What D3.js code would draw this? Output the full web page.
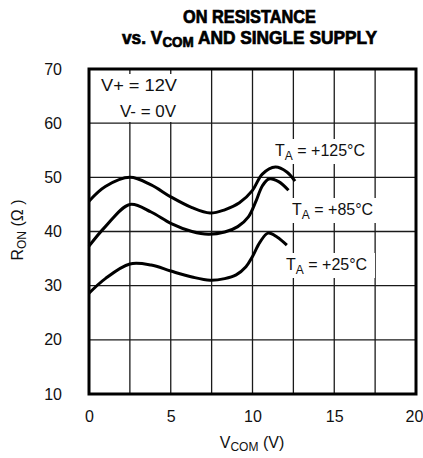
<!DOCTYPE html>
<html>
<head>
<meta charset="utf-8">
<script src="https://cdn.jsdelivr.net/npm/d3@7"></script>
<style>
  html, body { margin: 0; padding: 0; background: #fff; }
  svg { display: block; }
  text { font-family: "Liberation Sans", Arial, sans-serif; fill: #111; }
  .title { font-family: "Liberation Sans", Arial, sans-serif; font-weight: bold; fill: #000; stroke: #000; stroke-width: 0.7; }
</style>
</head>
<body>
<svg id="chart" width="423" height="458"></svg>
<script>
// ---- data ----
const xTicks = [0, 5, 10, 15, 20];
const yTicks = [10, 20, 30, 40, 50, 60, 70];
const xGrid = [2.5, 5, 7.5, 10, 12.5, 15, 17.5];
const yGrid = [20, 30, 40, 50, 60];

const vcom125 = [0, 1, 2.5, 3.8, 5, 6.3, 7.4, 8.3, 9.2, 10, 10.6, 11.4, 12.1, 12.6];
const ron125  = [45.6, 48.3, 50.0, 48.6, 46.4, 44.4, 43.4, 44.0, 45.3, 47.6, 50.6, 51.9, 51.0, 49.3];

const vcom85 = [0, 1, 2.5, 3.8, 5, 6.3, 7.3, 8.3, 9.1, 9.75, 10.2, 10.6, 11.0, 11.6, 12.2];
const ron85  = [37.3, 40.9, 45.0, 43.6, 41.5, 40.0, 39.5, 39.9, 40.9, 42.7, 45.5, 48.4, 49.7, 49.2, 47.6];

const vcom25 = [0, 1, 2.5, 3.8, 5, 6.3, 7.4, 8.3, 9.0, 9.6, 10.0, 10.45, 10.95, 11.5, 12.1];
const ron25  = [28.6, 31.3, 34.0, 33.8, 32.7, 31.6, 31.0, 31.3, 32.0, 33.5, 35.4, 38.0, 39.7, 39.0, 37.5];

const seriesNames = ["+125°C", "+85°C", "+25°C"];

// ---- layout ----
const svg = d3.select("#chart");
const pL = 89, pR = 416, pT = 69, pB = 394;
const x = d3.scaleLinear().domain([0, 20]).range([pL, pR]);
const y = d3.scaleLinear().domain([10, 70]).range([pB, pT]);

// grid
const g = svg.append("g");
g.selectAll(".vg").data(xGrid).enter().append("line")
  .attr("x1", d => x(d)).attr("x2", d => x(d))
  .attr("y1", pT).attr("y2", pB)
  .attr("stroke", "#1a1a1a").attr("stroke-width", 1.3);
g.selectAll(".hg").data(yGrid).enter().append("line")
  .attr("x1", pL).attr("x2", pR)
  .attr("y1", d => y(d)).attr("y2", d => y(d))
  .attr("stroke", "#1a1a1a").attr("stroke-width", 1.3);

// white boxes behind labels (they break the grid)
function box(x0, y0, w, h) {
  svg.append("rect").attr("x", x0).attr("y", y0).attr("width", w).attr("height", h).attr("fill", "#fff");
}
box(96, 74, 90, 48);
const labelPos = [[275, 156], [292, 215], [286, 270]];
labelPos.forEach(p => box(p[0] - 3, p[1] - 17, 92, 25));

// curves
const line = d3.line().x(d => x(d[0])).y(d => y(d[1])).curve(d3.curveCatmullRom.alpha(0.5));
const series = [
  d3.zip(vcom125, ron125),
  d3.zip(vcom85, ron85),
  d3.zip(vcom25, ron25)
];
svg.append("g").selectAll("path").data(series).enter().append("path")
  .attr("d", line)
  .attr("fill", "none").attr("stroke", "#000").attr("stroke-width", 3)
  .attr("stroke-linecap", "butt");

function taLabel(name, xPos, yBase) {
  const t = svg.append("text").attr("x", xPos).attr("y", yBase).attr("font-size", 16);
  t.append("tspan").text("T");
  t.append("tspan").attr("font-size", 12).attr("dy", 4).text("A");
  t.append("tspan").attr("dy", -4).text(" = " + name);
  return t;
}
labelPos.forEach((p, i) => taLabel(seriesNames[i], p[0], p[1]));

svg.append("text").attr("x", 101).attr("y", 91).attr("font-size", 16)
  .attr("textLength", 76).attr("lengthAdjust", "spacingAndGlyphs").text("V+ = 12V");
svg.append("text").attr("x", 120).attr("y", 117).attr("font-size", 16)
  .attr("textLength", 56).attr("lengthAdjust", "spacingAndGlyphs").text("V- = 0V");

// frame
svg.append("rect").attr("x", pL).attr("y", pT).attr("width", pR - pL).attr("height", pB - pT)
  .attr("fill", "none").attr("stroke", "#000").attr("stroke-width", 3);

// axes tick labels
const yAxis = d3.axisLeft(y).tickValues(yTicks).tickSize(0).tickPadding(27);
const ya = svg.append("g").attr("transform", `translate(${pL},0)`).call(yAxis);
ya.select(".domain").remove();
ya.selectAll("text").attr("font-size", 16).attr("fill", "#111")
  .style("font-family", "'Liberation Sans',Arial,sans-serif");

const xAxis = d3.axisBottom(x).tickValues(xTicks).tickSize(0).tickPadding(17);
const xa = svg.append("g").attr("transform", `translate(0,${pB})`).call(xAxis);
xa.select(".domain").remove();
xa.selectAll("text").attr("font-size", 16).attr("fill", "#111")
  .style("font-family", "'Liberation Sans',Arial,sans-serif")
  .attr("dx", d => d === 20 ? -2 : 0);

// axis titles
const xt = svg.append("text").attr("x", 252).attr("y", 448).attr("text-anchor", "middle").attr("font-size", 16);
xt.append("tspan").text("V");
xt.append("tspan").attr("font-size", 12).attr("dy", 3).text("COM");
xt.append("tspan").attr("dy", -3).text(" (V)");

const yt = svg.append("text").attr("transform", "translate(23,230) rotate(-90)").attr("text-anchor", "middle").attr("font-size", 16);
yt.append("tspan").text("R");
yt.append("tspan").attr("font-size", 12).attr("dy", 3).text("ON");
yt.append("tspan").attr("dy", -3).text(" (Ω )");

// title
svg.append("text").attr("class", "title").attr("font-size", 18)
  .attr("x", 183).attr("y", 23)
  .attr("textLength", 133).attr("lengthAdjust", "spacingAndGlyphs").text("ON RESISTANCE");
const t2 = svg.append("text").attr("class", "title").attr("font-size", 18)
  .attr("x", 122).attr("y", 43.5)
  .attr("textLength", 255).attr("lengthAdjust", "spacingAndGlyphs");
t2.append("tspan").text("vs. V");
t2.append("tspan").attr("font-size", 14).attr("dy", 3).text("COM");
t2.append("tspan").attr("dy", -3).text(" AND SINGLE SUPPLY");
</script>
</body>
</html>
